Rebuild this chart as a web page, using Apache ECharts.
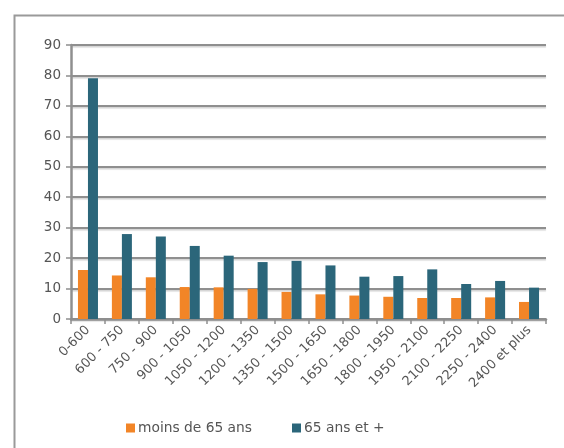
<!DOCTYPE html>
<html>
<head>
<meta charset="utf-8">
<script src="https://cdn.jsdelivr.net/npm/echarts@6/dist/echarts.min.js"></script>
<style>
  html, body { margin: 0; padding: 0; background: #fff; }
  #chart { width: 564px; height: 448px; }
</style>
</head>
<body>
<div id="chart"></div>
<script>
// income brackets
const categories = ["0-600", "600 - 750", "750 - 900", "900 - 1050", "1050 - 1200", "1200 - 1350",
  "1350 - 1500", "1500 - 1650", "1650 - 1800", "1800 - 1950", "1950 - 2100", "2100 - 2250",
  "2250 - 2400", "2400 et plus"];
const seriesNames = ["moins de 65 ans", "65 ans et +"];
const under65 = [16.1, 14.3, 13.7, 10.5, 10.4, 9.9, 8.9, 8.1, 7.7, 7.3, 6.9, 6.9, 7.1, 5.6];
const over65 = [79.1, 27.9, 27.1, 24, 20.8, 18.7, 19.1, 17.6, 13.9, 14.1, 16.3, 11.5, 12.5, 10.3];
const yTicks = { min: 0, max: 90, interval: 10 };

const chart = echarts.init(document.getElementById("chart"));
const textColor = "#555555";
const font = "DejaVu Sans";

chart.setOption({
  animation: false,
  graphic: [{
    type: "rect",
    shape: { x: 14.5, y: 15.5, width: 600, height: 500 },
    style: { fill: "none", stroke: "#9a9a9a", lineWidth: 2 }
  }],
  grid: { left: 71, right: 18, top: 45, bottom: 129 },
  legend: {
    left: 126,
    top: 421,
    padding: 0,
    icon: "rect",
    itemWidth: 9,
    itemHeight: 9,
    itemGap: 40,
    textStyle: { color: textColor, fontFamily: font, fontSize: 13.8, padding: [0, 0, 0, -2] },
    data: seriesNames
  },
  xAxis: {
    type: "category",
    data: categories,
    axisLine: { lineStyle: { color: "#8f8f8f", width: 2.5 } },
    axisTick: { show: true, length: 5, lineStyle: { color: "#8f8f8f", width: 1.5 } },
    axisLabel: {
      rotate: 45,
      interval: 0,
      margin: 9,
      color: textColor,
      fontFamily: font,
      fontSize: 13
    }
  },
  yAxis: {
    type: "value",
    min: yTicks.min,
    max: yTicks.max,
    interval: yTicks.interval,
    axisLine: { show: true, lineStyle: { color: "#8f8f8f", width: 2.5 } },
    axisTick: { show: true, length: 5, lineStyle: { color: "#8f8f8f", width: 1.5 } },
    axisLabel: { color: textColor, fontFamily: font, fontSize: 13.5, margin: 10 },
    splitLine: {
      lineStyle: {
        color: "#8f8f8f",
        width: 2,
        shadowColor: "rgba(0,0,0,0.18)",
        shadowOffsetY: 1.5,
        shadowBlur: 1
      }
    }
  },
  series: [
    {
      name: seriesNames[0],
      type: "bar",
      data: under65,
      barGap: "0%",
      barCategoryGap: "41%",
      itemStyle: { color: "#f28527" }
    },
    {
      name: seriesNames[1],
      type: "bar",
      data: over65,
      itemStyle: { color: "#2b667a" }
    }
  ]
});
</script>
</body>
</html>
